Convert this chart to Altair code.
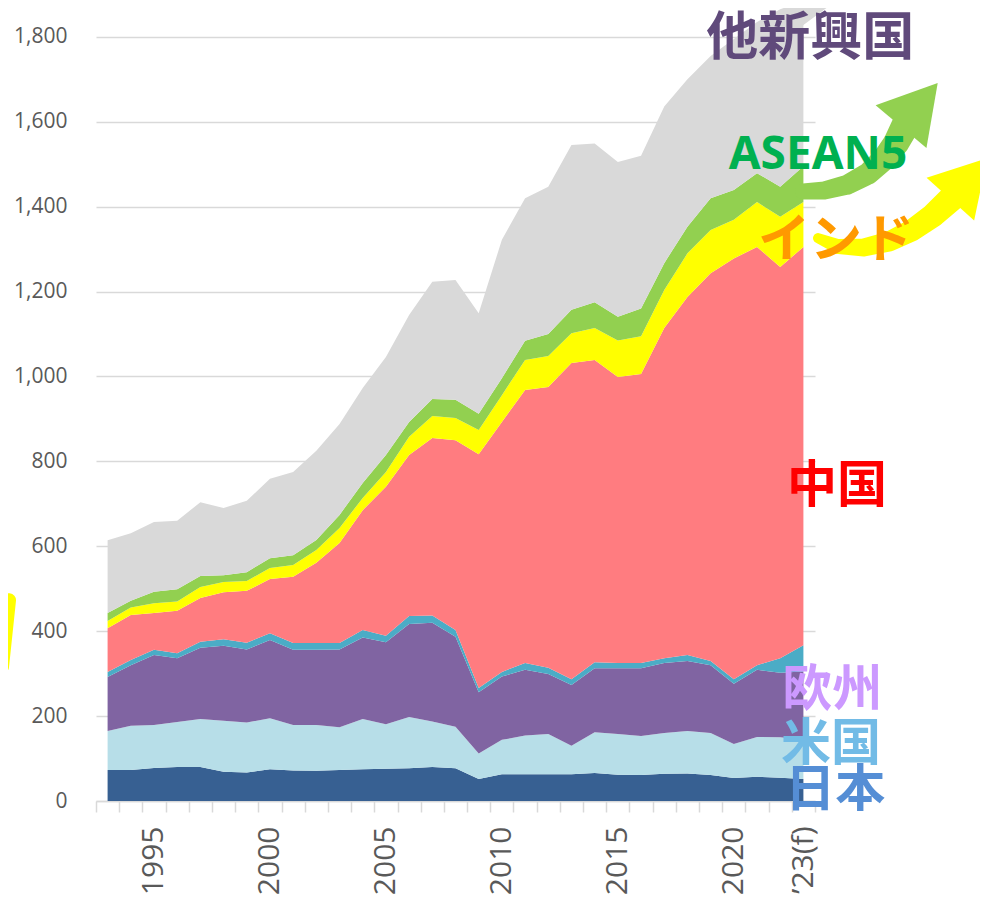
import altair as alt
import pandas as pd

# ---- data ----
years = list(range(1993, 2024))
japan = [73, 73, 78, 80, 80, 69, 67, 75, 72, 71, 73, 75, 76, 77, 80, 77, 52, 63, 63, 63, 63, 66, 62, 61, 64, 65, 61, 54, 57, 55, 52]
usa = [92, 104, 101, 106, 113, 120, 118, 120, 107, 108, 101, 118, 105, 121, 107, 98, 60, 81, 91, 95, 67, 96, 96, 92, 96, 100, 99, 80, 94, 95, 92]
europe = [127, 143, 165, 150, 168, 177, 172, 184, 177, 177, 183, 192, 193, 219, 233, 212, 144, 149, 155, 141, 143, 151, 155, 160, 165, 165, 160, 142, 158, 152, 161]
other_adv = [12, 12, 12, 12, 14, 15, 16, 16, 16, 16, 15, 18, 15, 19, 17, 16, 10, 11, 16, 15, 14, 14, 12, 12, 11, 14, 10, 11, 11, 34, 62]
china = [103, 106, 87, 100, 103, 111, 122, 128, 156, 189, 236, 282, 351, 379, 418, 447, 551, 589, 643, 661, 745, 712, 674, 681, 778, 843, 913, 991, 985, 922, 938]
india = [17, 18, 23, 22, 26, 24, 23, 26, 28, 30, 35, 29, 35, 43, 52, 52, 57, 63, 71, 73, 70, 75, 86, 89, 90, 103, 102, 91, 106, 118, 106]
asean5 = [19, 16, 27, 29, 26, 16, 21, 23, 23, 24, 31, 35, 40, 35, 40, 43, 38, 40, 45, 52, 55, 61, 56, 65, 63, 63, 75, 70, 68, 71, 84]
other_em = [171, 159, 164, 161, 174, 158, 168, 187, 196, 210, 214, 224, 231, 252, 276, 282, 237, 326, 336, 347, 388, 374, 364, 360, 369, 347, 335, 356, 356, 418, 390]

series_names = ["日本", "米国", "欧州", "その他先進国", "中国", "インド", "ASEAN5", "他新興国"]
series_values = [japan, usa, europe, other_adv, china, india, asean5, other_em]
series_colors = ["#376092", "#B7DEE8", "#8064A2", "#4BACC6", "#FF7C80", "#FFFF00", "#92D050", "#D9D9D9"]

y_ticks = [0, 200, 400, 600, 800, 1000, 1200, 1400, 1600, 1800]

# labels beside the chart (data units)
label_text = ["他新興国", "インド", "中国", "欧州", "米国", "日本"]
label_year = [2023.29, 2024.41, 2024.45, 2024.24, 2024.19, 2024.37]
label_value = [1795, 1319, 740, 259, 132, 24]
label_color = ["#604A7B", "#FF9900", "#FF0000", "#CC99FF", "#72BBE6", "#558ED5"]
label_size = [52, 52, 50, 50, 50, 50]

latin_text = ["ASEAN5"]
latin_year = [2023.63]
latin_value = [1522]
latin_color = ["#00B050"]

# decorative arrows (data units)
arrow_id = ["gray"] * 2 + ["yl"] * 2 + ["green"] * 7 + ["yellow"] * 7
arrow_year = [2022.68, 2024.79, 1988.75, 1988.49,
              2022.98, 2023.9, 2024.9, 2025.8, 2026.5, 2027.0, 2027.4,
              2023.63, 2024.5, 2025.6, 2026.7, 2027.7, 2028.6, 2029.4]
arrow_value = [1840, 1925, 473, 316,
               1436, 1438, 1452, 1478, 1514, 1550, 1592,
               1326, 1306, 1304, 1318, 1345, 1380, 1420]
arrow_width = [17, 17, 14, 12,
               16, 18, 20, 22, 24, 26, 28,
               10, 15, 18, 20, 22, 24, 26]
arrow_color = {"gray": "#D9D9D9", "yl": "#FFFF00", "green": "#92D050", "yellow": "#FFFF00"}

head_year = [2028.0, 2030.13]
head_value = [1640, 1466]
head_size = [4400, 4100]
head_angle = [40, 42]
head_color = ["#92D050", "#FFFF00"]

# ---- tables ----
rows = []
for idx, (name, vals) in enumerate(zip(series_names, series_values)):
    for yr, v in zip(years, vals):
        rows.append({"year": yr, "series": name, "value": v, "idx": idx})
df = pd.DataFrame(rows)

arrows_df = pd.DataFrame({
    "arrow": arrow_id, "year": arrow_year, "value": arrow_value, "w": arrow_width,
    "col": [arrow_color[a] for a in arrow_id], "i": list(range(len(arrow_id))),
})
heads_df = pd.DataFrame({"year": head_year, "value": head_value, "s": head_size,
                         "a": head_angle, "col": head_color})
labels_df = pd.DataFrame({"t": label_text, "year": label_year, "value": label_value,
                          "col": label_color, "fs": label_size})
latin_df = pd.DataFrame({"t": latin_text, "year": latin_year, "value": latin_value,
                         "col": latin_color})

# ---- scales / axes ----
x_scale = alt.Scale(domain=[1992.5, 2023.5], nice=False, zero=False)
y_scale = alt.Scale(domain=[0, 1868], nice=False, zero=True)

x_axis = alt.Axis(
    values=[1992.5 + i for i in range(32)],
    labelExpr="datum.value == 2022.5 ? '’23(f)' : ((datum.value + 0.5) % 5 == 0 ? toString(datum.value + 0.5) : '')",
    labelAngle=-90, labelAlign="right", labelBaseline="middle",
    labelOffset=11.6, labelPadding=14, labelFontSize=30, labelFont="Open Sans",
    labelColor="#595959", labelOverlap=False, labelFlush=False, labelBound=False,
    tickSize=11, tickColor="#D9D9D9", tickWidth=1.5,
    domainColor="#D9D9D9", domainWidth=1.5, grid=False, title=None,
)
y_axis = alt.Axis(
    values=y_ticks, labelExpr="format(datum.value, ',.0f')",
    labelFontSize=21, labelFont="Open Sans",
    labelColor="#595959", labelPadding=29, ticks=False, domain=False,
    grid=True, gridColor="#D9D9D9", gridWidth=1.5, title=None,
)


def xe():
    return alt.X("year:Q", scale=x_scale, axis=x_axis)


def ye(stack=None):
    if stack:
        return alt.Y("value:Q", scale=y_scale, axis=y_axis, stack=stack)
    return alt.Y("value:Q", scale=y_scale, axis=y_axis)


area = alt.Chart(df).mark_area(clip=True, interpolate="linear").encode(
    x=xe(),
    y=ye("zero"),
    color=alt.Color("series:N", scale=alt.Scale(domain=series_names, range=series_colors), legend=None),
    order=alt.Order("idx:Q", sort="ascending"),
)

trails = alt.Chart(arrows_df).mark_trail().encode(
    x=xe(), y=ye(),
    size=alt.Size("w:Q", scale=None, legend=None),
    color=alt.Color("col:N", scale=None, legend=None),
    detail="arrow:N",
    order=alt.Order("i:Q"),
)

heads = alt.Chart(heads_df).mark_point(
    shape="M0,-0.86L-1,0.86L1,0.86Z", filled=True, opacity=1, strokeWidth=0
).encode(
    x=xe(), y=ye(),
    size=alt.Size("s:Q", scale=None, legend=None),
    angle=alt.Angle("a:Q", scale=None),
    color=alt.Color("col:N", scale=None, legend=None),
)

texts = alt.Chart(labels_df).mark_text(
    font="Noto Sans CJK JP", fontWeight="bold", align="center", baseline="middle"
).encode(
    x=xe(), y=ye(), text="t:N",
    size=alt.Size("fs:Q", scale=None, legend=None),
    color=alt.Color("col:N", scale=None, legend=None),
)

latin = alt.Chart(latin_df).mark_text(
    font="Noto Sans", fontWeight="bold", fontSize=46, align="center", baseline="middle"
).encode(
    x=xe(), y=ye(), text="t:N",
    color=alt.Color("col:N", scale=None, legend=None),
)

chart = alt.layer(area, trails, heads, texts, latin).properties(
    width=719, height=793,
    autosize=alt.AutoSizeParams(type="none"),
    padding={"left": 88, "top": 0, "right": 165, "bottom": 94},
    background="white",
).configure_view(stroke=None)

chart.save("out.html", embed_options={"renderer": "svg", "actions": False})
